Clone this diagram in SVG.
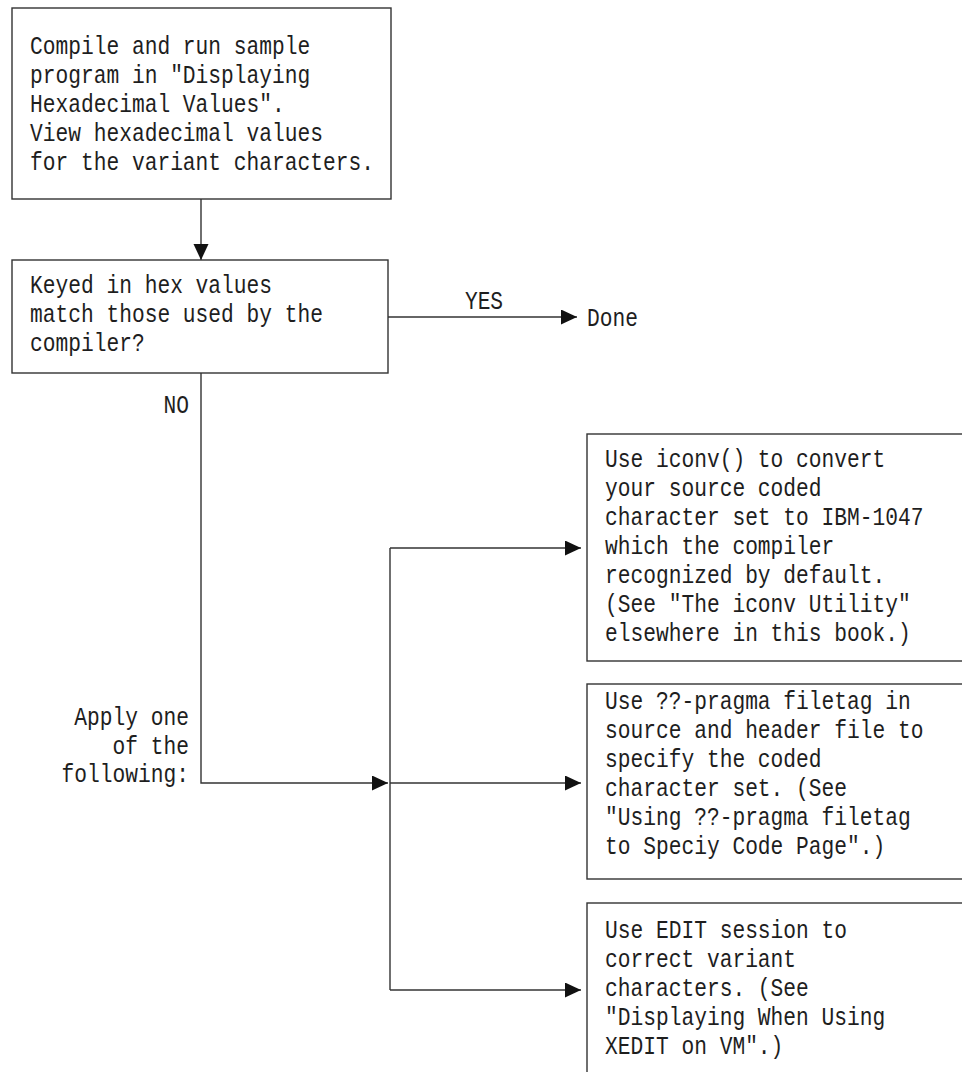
<svg xmlns="http://www.w3.org/2000/svg" width="962" height="1072" viewBox="0 0 962 1072">
  <style>
    .box { fill: #ffffff; stroke: #333333; stroke-width: 1.4; }
    .wire { fill: none; stroke: #333333; stroke-width: 1.4; }
    text { font-family: "Liberation Mono", "DejaVu Sans Mono", monospace; font-size: 25.5px; fill: #1e1e1e; }
    .end { text-anchor: end; }
    .mid { text-anchor: middle; }
  </style>
  <defs>
    <marker id="arrow" markerUnits="userSpaceOnUse" markerWidth="16" markerHeight="16" refX="16" refY="7.5" orient="auto">
      <path d="M0,0 L16,7.5 L0,15 Z" fill="#111111"/>
    </marker>
  </defs>
  <rect width="962" height="1072" fill="#ffffff"/>

  <!-- connectors and their labels; label groups squeeze the mono face horizontally -->
  <g id="connectors">
    <path class="wire" d="M201,199 V260" marker-end="url(#arrow)"/>
    <path class="wire" d="M388,317 H577" marker-end="url(#arrow)"/>
    <path class="wire" d="M201,373 V783 H388" marker-end="url(#arrow)"/>
    <path class="wire" d="M390,548 V990"/>
    <path class="wire" d="M390,548 H581" marker-end="url(#arrow)"/>
    <path class="wire" d="M390,783 H581" marker-end="url(#arrow)"/>
    <path class="wire" d="M390,990 H581" marker-end="url(#arrow)"/>
    <g transform="translate(484,0) scale(0.833,1)">
      <text class="mid" x="0" y="309">YES</text>
    </g>
    <g transform="translate(587,0) scale(0.833,1)">
      <text x="0" y="326">Done</text>
    </g>
    <g transform="translate(189,0) scale(0.833,1)">
      <text class="end" x="0" y="413">NO</text>
      <text class="end" x="0" y="725">Apply one</text>
      <text class="end" x="0" y="754">of the</text>
      <text class="end" x="0" y="782">following:</text>
    </g>
  </g>

  <!-- compile and run step -->
  <g id="compile">
    <rect class="box" x="12" y="8" width="379" height="191"/>
    <g transform="translate(30,0) scale(0.833,1)">
      <text x="0" y="54">Compile and run sample</text>
      <text x="0" y="83">program in "Displaying</text>
      <text x="0" y="112">Hexadecimal Values".</text>
      <text x="0" y="141">View hexadecimal values</text>
      <text x="0" y="170">for the variant characters.</text>
    </g>
  </g>

  <!-- decision -->
  <g id="check">
    <rect class="box" x="12" y="260" width="376" height="113"/>
    <g transform="translate(30,0) scale(0.833,1)">
      <text x="0" y="293">Keyed in hex values</text>
      <text x="0" y="322">match those used by the</text>
      <text x="0" y="351">compiler?</text>
    </g>
  </g>

  <!-- remedy options -->
  <g id="iconv">
    <rect class="box" x="587" y="434" width="400" height="227"/>
    <g transform="translate(605,0) scale(0.833,1)">
      <text x="0" y="467">Use iconv() to convert</text>
      <text x="0" y="496">your source coded</text>
      <text x="0" y="525">character set to IBM-1047</text>
      <text x="0" y="554">which the compiler</text>
      <text x="0" y="583">recognized by default.</text>
      <text x="0" y="612">(See "The iconv Utility"</text>
      <text x="0" y="641">elsewhere in this book.)</text>
    </g>
  </g>

  <g id="filetag">
    <rect class="box" x="587" y="684" width="400" height="195"/>
    <g transform="translate(605,0) scale(0.833,1)">
      <text x="0" y="709">Use ??-pragma filetag in</text>
      <text x="0" y="738">source and header file to</text>
      <text x="0" y="767">specify the coded</text>
      <text x="0" y="796">character set. (See</text>
      <text x="0" y="825">"Using ??-pragma filetag</text>
      <text x="0" y="854">to Speciy Code Page".)</text>
    </g>
  </g>

  <g id="edit">
    <rect class="box" x="587" y="903" width="400" height="200"/>
    <g transform="translate(605,0) scale(0.833,1)">
      <text x="0" y="938">Use EDIT session to</text>
      <text x="0" y="967">correct variant</text>
      <text x="0" y="996">characters. (See</text>
      <text x="0" y="1025">"Displaying When Using</text>
      <text x="0" y="1054">XEDIT on VM".)</text>
    </g>
  </g>
</svg>
